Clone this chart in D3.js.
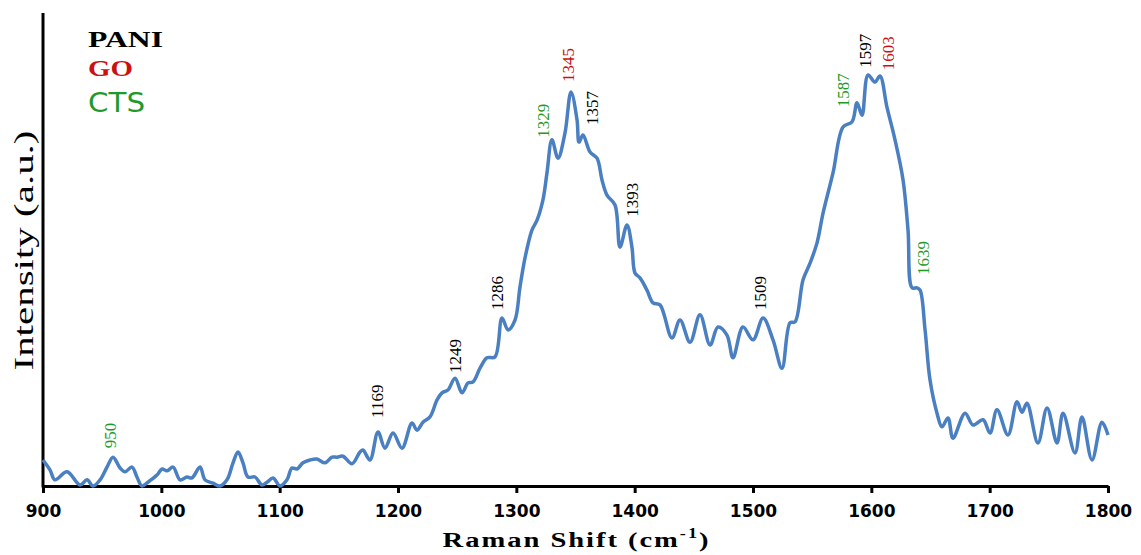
<!DOCTYPE html>
<html>
<head>
<meta charset="utf-8">
<script src="https://cdn.jsdelivr.net/npm/d3@7"></script>
<style>
  body { margin: 0; background: #fff; }
  #my_dataviz { width: 1141px; height: 555px; }
</style>
</head>
<body>
<div id="my_dataviz"></div>
<script>
// Raman shift (cm-1) and intensity (a.u.)
const shift = [900, 905.9, 910.1, 920.3, 931.3, 937.2, 942.3, 948.2, 954.1, 959.2, 965.1, 969.3, 975.2, 979.4, 983.7, 988.7, 996.3, 1000.6, 1004.8, 1009.9, 1015.8, 1021.7, 1025.9, 1032.7, 1036.9, 1043.7, 1049.6, 1055.5, 1060.6, 1064.8, 1069.0, 1073.2, 1079.2, 1085.1, 1089.3, 1094.4, 1100.3, 1106.2, 1110.4, 1114.6, 1119.7, 1125.6, 1131.5, 1138.3, 1144.2, 1148.5, 1153.5, 1161.1, 1167.9, 1170.4, 1176.3, 1183.1, 1189.0, 1195.8, 1203.4, 1211.8, 1216.1, 1221.1, 1227.0, 1233.0, 1237.2, 1242.2, 1248.2, 1254.1, 1259.2, 1263.4, 1269.3, 1275.2, 1282.0, 1287.9, 1293.0, 1298.9, 1303.1, 1307.3, 1313.2, 1317.5, 1322.5, 1325.9, 1330.1, 1335.2, 1341.1, 1346.2, 1351.3, 1353.0, 1356.3, 1362.3, 1368.2, 1372.4, 1376.6, 1383.4, 1387.6, 1393.5, 1397.7, 1400.3, 1404.5, 1410.4, 1415.5, 1421.4, 1431.5, 1438.3, 1446.8, 1455.2, 1463.7, 1470.4, 1478.0, 1483.1, 1491.5, 1500.0, 1508.5, 1516.9, 1524.5, 1531.3, 1535.5, 1542.3, 1548.2, 1554.1, 1559.2, 1567.6, 1576.1, 1583.7, 1587.9, 1592.1, 1597.2, 1603.1, 1607.3, 1613.2, 1620.0, 1626.8, 1631.0, 1634.4, 1638.6, 1641.2, 1645.4, 1649.6, 1655.5, 1659.7, 1664.8, 1669.0, 1679.2, 1685.9, 1694.4, 1700.3, 1706.2, 1715.5, 1723.1, 1727.3, 1731.5, 1740.8, 1748.5, 1756.9, 1762.0, 1772.1, 1778.0, 1786.5, 1794.9, 1800];
const intensity = [5.5, 3.4, 1.3, 3.0, 0.2, 1.3, 0, 1.3, 4.0, 6.1, 3.8, 3.0, 4.0, 1.9, 0, 0.8, 2.3, 3.6, 3.2, 4.0, 1.3, 1.9, 1.7, 4.0, 1.3, 0.6, 0, 1.3, 4.9, 7.2, 4.9, 1.9, 1.9, 0.2, 0.8, 1.7, 0, 1.3, 3.8, 3.6, 4.9, 5.5, 5.7, 4.9, 6.1, 6.1, 6.3, 4.7, 7.2, 7.6, 5.5, 11.4, 8.0, 11.2, 8.0, 13.3, 11.8, 13.5, 14.6, 18.2, 19.7, 20.3, 22.8, 19.7, 21.8, 22.0, 24.9, 27.1, 27.3, 35.5, 33.0, 35.1, 42.1, 48.2, 54.1, 56.2, 60.5, 66.2, 73.2, 69.3, 74.6, 83.3, 77.4, 72.7, 74.2, 70.6, 69.3, 64.7, 61.5, 59.4, 50.5, 55.2, 50.5, 45.0, 44.0, 41.4, 38.7, 38.3, 31.3, 35.1, 30.4, 36.2, 29.8, 33.6, 31.9, 27.1, 33.6, 30.9, 35.5, 30.9, 24.9, 34.5, 34.7, 43.6, 47.1, 51.4, 57.7, 66.2, 75.9, 77.0, 81.0, 78.4, 86.9, 85.4, 86.7, 80.1, 73.2, 64.7, 54.1, 41.9, 41.9, 41.4, 33.0, 22.4, 15.4, 12.5, 14.4, 10.1, 15.4, 12.9, 14.0, 11.2, 16.1, 10.8, 17.8, 15.6, 17.5, 9.1, 16.5, 9.1, 15.4, 7.0, 14.6, 5.5, 13.5, 10.8];

// x axis ticks
const xTicks = [900, 1000, 1100, 1200, 1300, 1400, 1500, 1600, 1700, 1800];

// peak labels: text, shift where the label stands, intensity at its foot, group
const peakName = [950, 1169, 1249, 1286, 1329, 1345, 1357, 1393, 1509, 1587, 1597, 1603, 1639];
const peakAt = [956.6, 1182.2, 1248.2, 1283.7, 1322.5, 1343.7, 1363.9, 1397.7, 1505.9, 1576.1, 1594.6, 1614.1, 1643.7];
const peakTop = [8.0, 14.4, 23.9, 37.2, 73.6, 85.4, 76.3, 56.9, 37.2, 80.1, 88.4, 87.9, 44.6];
const peakGroup = ["CTS", "PANI", "PANI", "PANI", "CTS", "GO", "PANI", "PANI", "PANI", "CTS", "PANI", "GO", "CTS"];

// legend
const groups = ["PANI", "GO", "CTS"];
const groupColors = ["#000000", "#cc1111", "#1f9a2a"];

const margin = { top: 13, right: 33, bottom: 69, left: 43 };
const width = 1141 - margin.left - margin.right;
const height = 555 - margin.top - margin.bottom;

const svg = d3.select("#my_dataviz")
  .append("svg")
    .attr("width", 1141)
    .attr("height", 555)
  .append("g")
    .attr("transform", `translate(${margin.left},${margin.top})`);

const x = d3.scaleLinear().domain([900, 1800]).range([0, width]);
const y = d3.scaleLinear().domain([0, 100]).range([height, 0]);

const color = d3.scaleOrdinal().domain(groups).range(groupColors);

// X axis
const xAxis = svg.append("g")
    .attr("transform", `translate(0, ${height})`)
    .call(d3.axisBottom(x).tickValues(xTicks).tickFormat(d3.format("d"))
        .tickSize(7).tickPadding(12).tickSizeOuter(0));
xAxis.select(".domain").attr("stroke", "#000").attr("stroke-width", 3);
xAxis.selectAll(".tick line").attr("stroke", "#000").attr("stroke-width", 3);
xAxis.selectAll(".tick text")
    .attr("fill", "#000")
    .style("font-family", "'DejaVu Sans', Verdana, sans-serif")
    .style("font-weight", "bold")
    .style("font-size", "17px");

// Y axis (no ticks)
svg.append("line")
    .attr("x1", 0).attr("x2", 0)
    .attr("y1", 0).attr("y2", height + 1.5)
    .attr("stroke", "#000")
    .attr("stroke-width", 3);

// spectrum
const points = shift.map((s, i) => ({ s: s, v: intensity[i] }));
svg.append("path")
    .datum(points)
    .attr("fill", "none")
    .attr("stroke", "#4a7fc1")
    .attr("stroke-width", 3.5)
    .attr("stroke-linejoin", "round")
    .attr("d", d3.line()
        .x(d => x(d.s))
        .y(d => y(d.v))
        .curve(d3.curveCatmullRom.alpha(0.5)));

// peak labels (rotated)
svg.append("g")
  .selectAll("text")
  .data(peakName)
  .join("text")
    .attr("transform", (d, i) => `translate(${x(peakAt[i]) + 6},${y(peakTop[i])}) rotate(-90)`)
    .text(d => d)
    .attr("fill", (d, i) => color(peakGroup[i]))
    .style("font-family", "'Liberation Serif', 'Times New Roman', serif")
    .style("font-size", "17px");

// legend
const legendLen = { PANI: 75, GO: 45, CTS: 57 };
svg.append("g")
  .selectAll("text")
  .data(groups)
  .join("text")
    .attr("x", 45)
    .attr("y", (d, i) => [34, 63, 99][i])
    .text(d => d)
    .attr("fill", d => color(d))
    .attr("textLength", d => legendLen[d])
    .attr("lengthAdjust", "spacingAndGlyphs")
    .style("font-family", d => d === "CTS" ? "'DejaVu Sans', Verdana, sans-serif" : "'Liberation Serif', 'Times New Roman', serif")
    .style("font-weight", d => d === "CTS" ? "normal" : "bold")
    .style("font-size", d => d === "CTS" ? "26px" : "24px");

// axis titles
const xt = svg.append("text")
    .attr("transform", `translate(${width / 2 + 1},${height + 61}) scale(1.3,1)`)
    .attr("text-anchor", "middle")
    .style("font-family", "'Liberation Serif', 'Times New Roman', serif")
    .style("font-weight", "bold")
    .style("font-size", "22px")
    .style("letter-spacing", "1.5px")
    .attr("fill", "#000");
xt.append("tspan").text("Raman Shift  (cm");
xt.append("tspan").text("-1").attr("dy", -9).style("font-size", "14px");
xt.append("tspan").text(")").attr("dy", 9);

svg.append("text")
    .attr("transform", `translate(-10, ${height / 2 + 1}) rotate(-90)`)
    .attr("text-anchor", "middle")
    .attr("textLength", 240)
    .attr("lengthAdjust", "spacingAndGlyphs")
    .style("font-family", "'Liberation Serif', 'Times New Roman', serif")
    .style("font-size", "28px")
    .attr("fill", "#000")
    .text("Intensity (a.u.)");
</script>
</body>
</html>
